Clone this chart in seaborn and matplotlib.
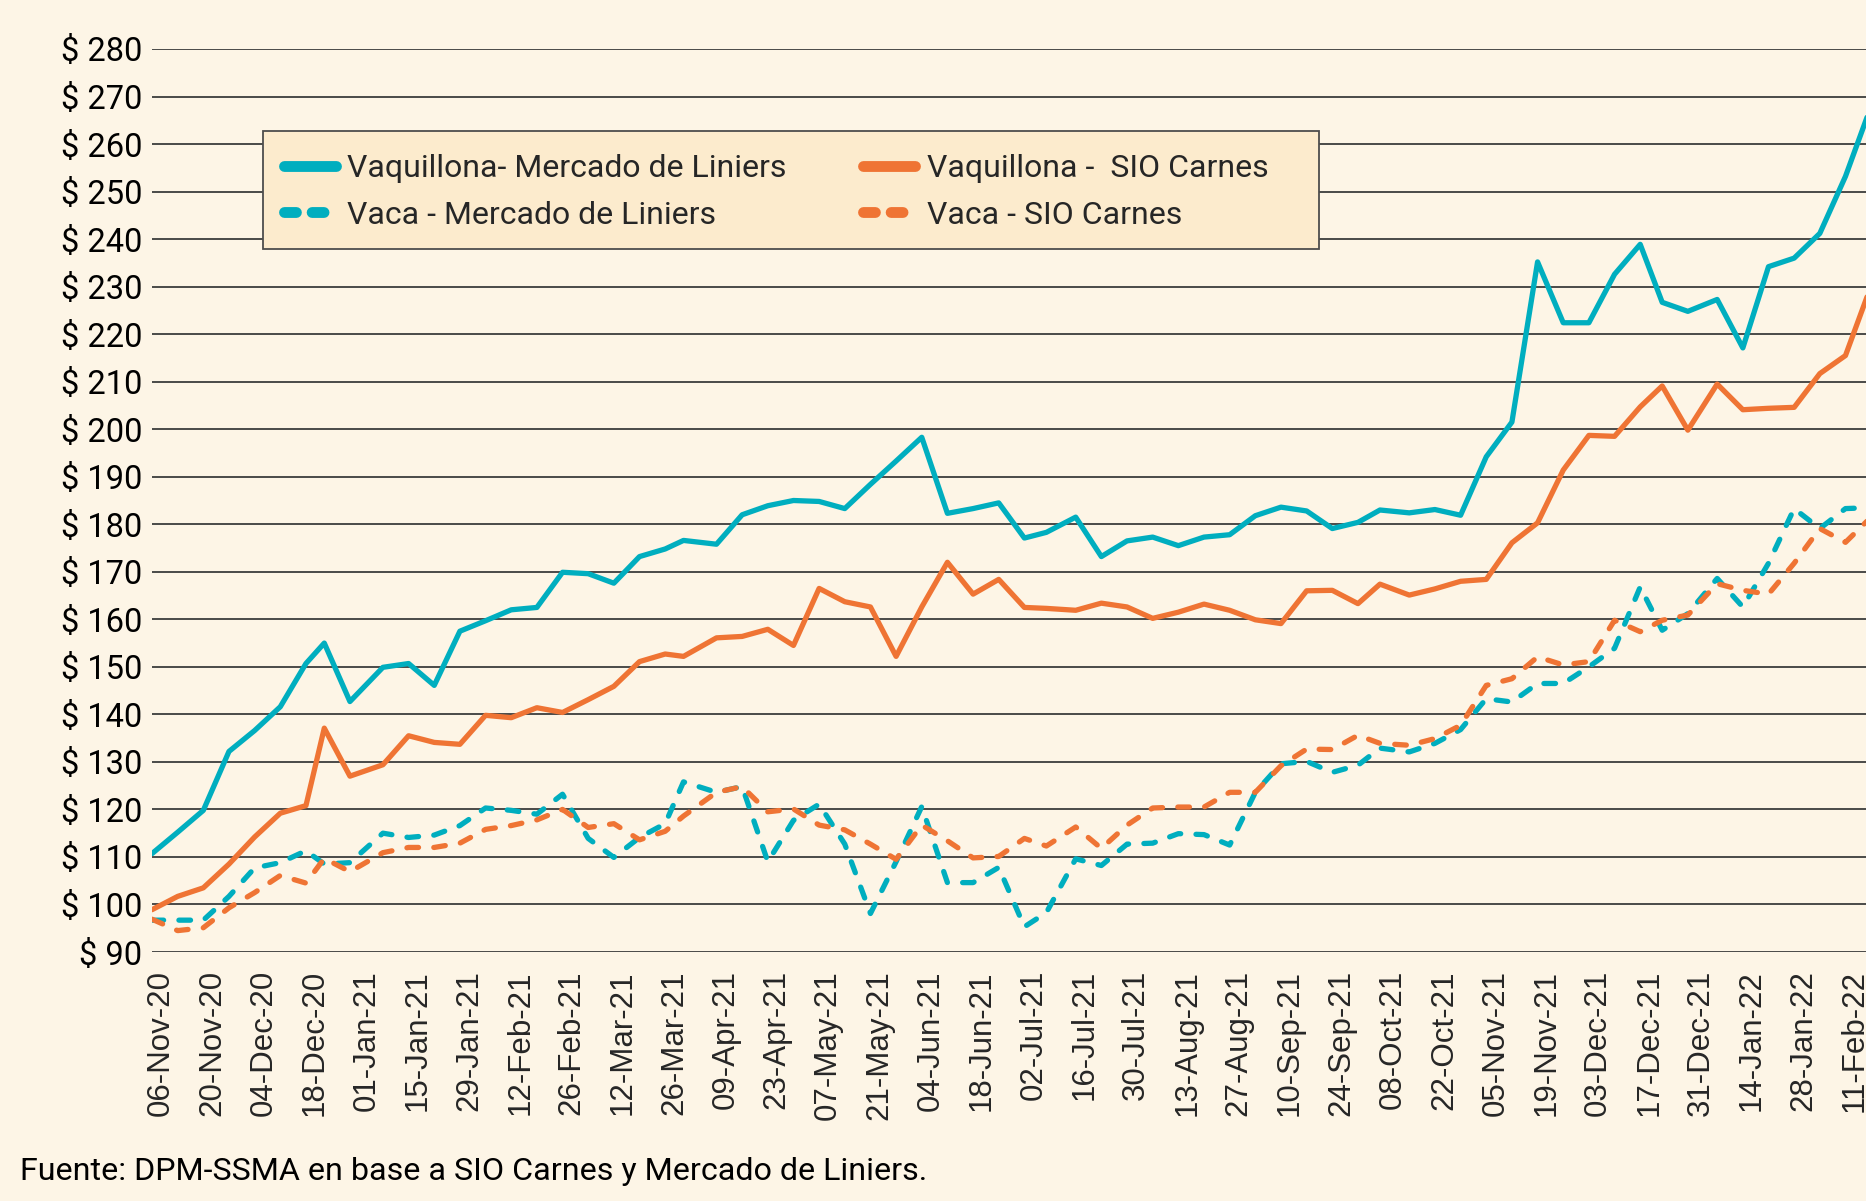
import numpy as np
import pandas as pd
import seaborn as sns
import matplotlib.pyplot as plt
import matplotlib.dates as mdates
from matplotlib.patches import Rectangle
from matplotlib.ticker import FuncFormatter
from matplotlib.transforms import ScaledTranslation

# semanas (viernes); en semanas con feriado el dato se toma antes
fechas = pd.date_range("2020-11-06", "2022-02-18", freq="7D")
feriados = {"2020-12-25": "2020-12-23", "2021-01-01": "2020-12-30",
            "2021-04-02": "2021-03-31", "2021-07-09": "2021-07-08",
            "2021-10-08": "2021-10-07", "2021-12-24": "2021-12-23",
            "2021-12-31": "2021-12-30"}
fechas = pd.to_datetime([feriados.get(f.strftime("%Y-%m-%d"), f.strftime("%Y-%m-%d"))
                         for f in fechas])

vaq_liniers = [110.7, 115.2, 119.8, 132.2, 136.6, 141.6, 150.7, 155.0, 142.7, 149.9,
               150.7, 146.1, 157.5, 159.7, 162.0, 162.5, 169.9, 169.6, 167.6, 173.2,
               174.8, 176.6, 175.8, 182.0, 183.9, 185.0, 184.8, 183.3, 188.4, 193.3,
               198.3, 182.3, 183.3, 184.5, 177.1, 178.3, 181.5, 173.2, 176.5, 177.3,
               175.5, 177.3, 177.8, 181.8, 183.6, 182.8, 179.1, 180.4, 183.0, 182.4,
               183.1, 181.9, 194.2, 201.5, 235.2, 222.4, 222.4, 232.6, 238.9, 226.7,
               224.8, 227.3, 217.1, 234.2, 236.0, 241.2, 253.2, 268.0]
vaq_sio = [98.9, 101.7, 103.5, 108.5, 114.2, 119.2, 120.8, 137.1, 127.0, 129.4,
           135.5, 134.1, 133.7, 139.8, 139.3, 141.4, 140.4, 143.1, 145.9, 151.1,
           152.7, 152.2, 156.1, 156.4, 157.9, 154.5, 166.5, 163.7, 162.6, 152.2,
           162.6, 172.0, 165.3, 168.4, 162.5, 162.3, 161.9, 163.4, 162.6, 160.2,
           161.5, 163.2, 161.9, 159.9, 159.1, 166.0, 166.1, 163.3, 167.4, 165.1,
           166.4, 168.0, 168.4, 176.1, 180.3, 191.4, 198.7, 198.5, 204.7, 209.1,
           199.8, 209.5, 204.1, 204.4, 204.6, 211.7, 215.5, 230.2]
vaca_liniers = [96.7, 96.7, 96.7, 101.7, 107.7, 108.8, 111.3, 108.5, 108.8, 115.0,
                114.1, 114.6, 116.6, 120.3, 119.8, 119.0, 123.2, 113.9, 109.9, 114.1,
                117.0, 125.8, 123.6, 124.8, 109.0, 117.7, 121.1, 112.7, 98.1, 109.0,
                120.6, 104.6, 104.6, 107.8, 95.3, 98.3, 109.6, 108.2, 112.7, 112.9,
                114.9, 114.7, 112.5, 123.6, 129.6, 130.1, 127.8, 129.3, 132.9, 132.1,
                133.9, 136.8, 143.3, 142.6, 146.5, 146.5, 150.0, 153.9, 166.8, 157.7,
                161.2, 168.6, 162.6, 171.8, 183.3, 179.1, 183.3, 183.5]
vaca_sio = [96.9, 94.5, 95.1, 99.3, 102.5, 106.1, 104.5, 109.7, 106.9, 110.9,
            112.0, 112.0, 112.9, 115.8, 116.6, 117.8, 120.0, 116.2, 117.0, 113.6,
            115.4, 118.6, 123.6, 124.8, 119.5, 120.1, 116.7, 115.7, 112.7, 109.5,
            116.7, 113.4, 109.8, 110.1, 113.9, 112.3, 116.3, 111.8, 116.7, 120.3,
            120.5, 120.5, 123.6, 123.6, 129.2, 132.7, 132.6, 135.6, 133.9, 133.5,
            134.9, 137.7, 146.1, 147.5, 152.1, 150.4, 151.1, 159.8, 157.4, 159.8,
            160.9, 167.5, 166.1, 165.3, 171.8, 179.1, 176.2, 181.5]

trazo = (0, (2.2, 2.9))
series = [
    ("Vaquillona- Mercado de Liniers", vaq_liniers, "#00AEBF", "-"),
    ("Vaquillona -  SIO Carnes", vaq_sio, "#EF7434", "-"),
    ("Vaca - Mercado de Liniers", vaca_liniers, "#00AEBF", trazo),
    ("Vaca - SIO Carnes", vaca_sio, "#EF7434", trazo),
]

fondo = "#FDF5E6"
sns.set_style("white")
plt.rcParams["font.family"] = ["Roboto", "DejaVu Sans"]

W, H = 1866, 1201
fig = plt.figure(figsize=(W / 100, H / 100), dpi=100, facecolor=fondo)
ax = fig.add_axes([152 / W, 1 - 952 / H, 1 - 152 / W, (952 - 49) / H])
ax.set_facecolor(fondo)

for nombre, valores, color, estilo in series:
    sns.lineplot(x=fechas, y=valores, ax=ax, color=color, lw=3.8, linestyle=estilo,
                 label=nombre)
for ln in ax.get_lines():
    ln.set_dash_capstyle("round")
    ln.set_solid_capstyle("round")
    ln.set_solid_joinstyle("round")
    ln.set_dash_joinstyle("round")

ax.set_ylim(90, 280)
ax.set_yticks(np.arange(90, 281, 10))
ax.yaxis.set_major_formatter(FuncFormatter(lambda v, p: f"$ {v:.0f}"))
inicio = pd.Timestamp("2020-11-06")
ax.set_xlim(inicio, inicio + pd.Timedelta(days=467.6))
ax.set_xticks(pd.date_range("2020-11-06", "2022-02-11", freq="14D"))
ax.xaxis.set_major_formatter(mdates.DateFormatter("%d-%b-%y"))
ax.grid(axis="y", color="#3c3c3c", lw=1.3)
ax.grid(axis="x", visible=False)
ax.set_axisbelow(True)
for s in ax.spines.values():
    s.set_visible(False)
ax.tick_params(axis="y", length=0, pad=7, labelsize=23.5, labelcolor="black")
ax.tick_params(axis="x", length=0, pad=13, labelrotation=90)
desplazo = ScaledTranslation(9 / 100, 0, fig.dpi_scale_trans)
for t in ax.get_xticklabels():
    t.set_fontfamily("Liberation Sans")
    t.set_fontsize(22.5)
    t.set_transform(t.get_transform() + desplazo)
ax.set_xlabel("")
ax.set_ylabel("")

# recuadro de la leyenda
ax.add_patch(Rectangle((263 / W, 1 - 249 / H), 1056 / W, 118 / H,
                       transform=fig.transFigure, facecolor="#FCEBCD",
                       edgecolor="#4d4d4d", lw=1.3, zorder=4, clip_on=False))
h, l = ax.get_legend_handles_labels()
orden = [0, 2, 1, 3]
leg = ax.legend([h[i] for i in orden], [l[i] for i in orden], ncol=2,
                loc="upper left", bbox_to_anchor=(284 / W, 1 - 154 / H),
                bbox_transform=fig.transFigure, frameon=False, borderpad=0,
                borderaxespad=0, fontsize=23, handlelength=1.63,
                handletextpad=0.35, columnspacing=2.4, labelspacing=0.55)
leg.set_zorder(5)
for ln in leg.get_lines():
    ln.set_linewidth(7.8)
    ln.set_solid_capstyle("round")
    ln.set_dash_capstyle("round")
    if ln.get_linestyle() != "-":
        ln.set_dashes((1.1, 1.45))

fig.text(20 / W, 1 - 1172 / H, "Fuente: DPM-SSMA en base a SIO Carnes y Mercado de Liniers.",
         fontsize=23.2, va="center", ha="left", color="black")

fig.savefig("out.png", dpi=100, facecolor=fondo)
